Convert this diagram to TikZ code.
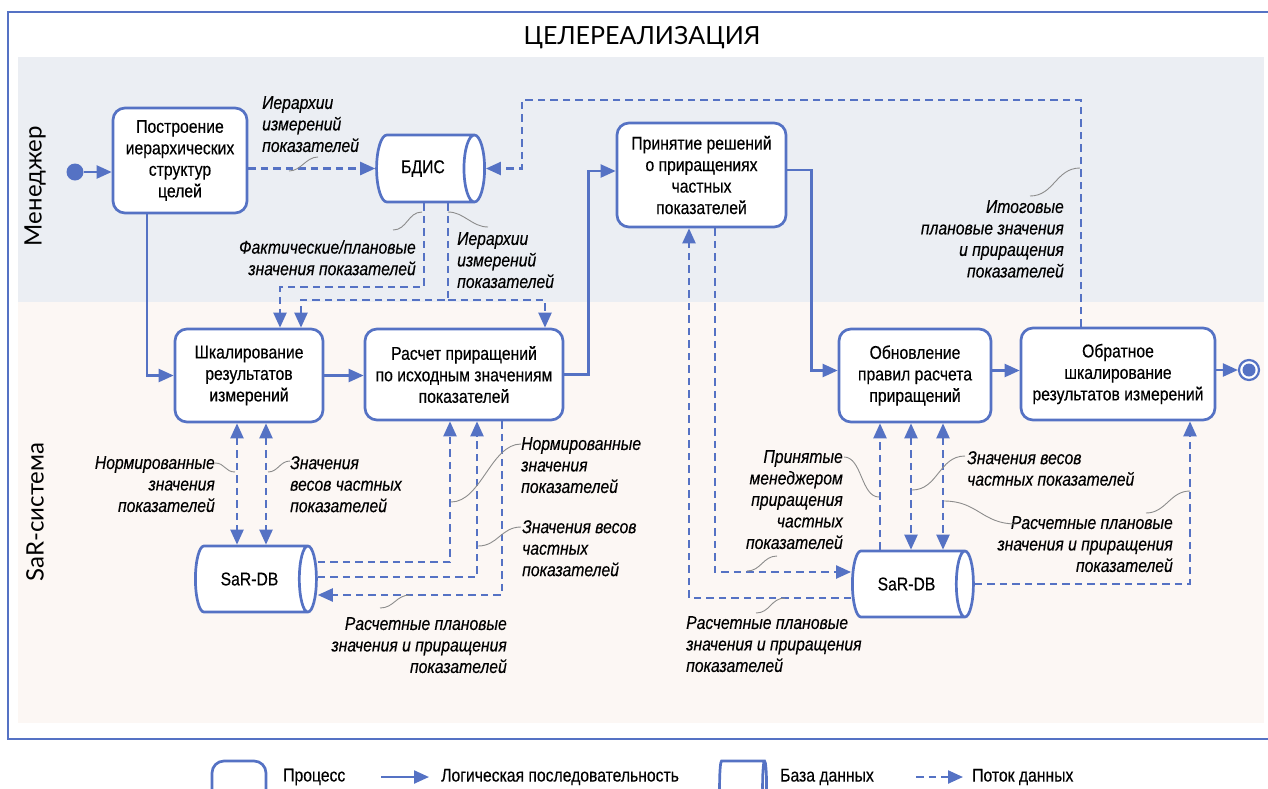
\documentclass[tikz,border=0pt]{standalone}
\usepackage{fontspec}
\setmainfont{Liberation Sans}[FakeStretch=0.85, FakeBold=0.3]
\newfontfamily\titlefont{Lato}
\usepackage{tikz}
\usetikzlibrary{shapes.geometric, arrows.meta, positioning}
\definecolor{SarBlue}{HTML}{5572C4}
\definecolor{MgrBand}{HTML}{EBEEF3}
\definecolor{SarBand}{HTML}{FCF7F4}
\definecolor{LeadGray}{HTML}{8C8C8C}
\newcommand{\boxfont}{\fontsize{18.5}{21.5}\selectfont}
\newcommand{\lblfont}{\fontsize{18.5}{21.5}\selectfont\itshape}
\newcommand{\lanefont}{\titlefont\fontsize{24}{28}\selectfont}

\tikzset{
  procbox/.style={draw=SarBlue, line width=2.7pt, rounded corners=12pt, fill=white,
    align=center, inner sep=2pt, font=\boxfont},
  % у цилиндра minimum height идёт вдоль оси
  dbase/.style={cylinder, aspect=1, draw=SarBlue, line width=2.7pt, fill=white,
    inner sep=2pt, font=\boxfont, minimum height=121pt, minimum width=66pt},
  logic/.style={draw=SarBlue, line width=2.3pt, -{Triangle[length=15pt,width=13pt]}},
  dflow/.style={logic, dash pattern=on 7.5pt off 5pt},
  dflowboth/.style={dflow, {Triangle[length=15pt,width=13pt]}-{Triangle[length=15pt,width=13pt]}},
  leader/.style={draw=LeadGray, line width=0.9pt},
  lbl/.style={font=\lblfont, inner sep=0pt, execute at begin node={\rule{0pt}{14pt}}},
}

\begin{document}
\begin{tikzpicture}[x=1pt, y=-1pt]
  \path[use as bounding box, clip] (0,0) rectangle (1268,788);
  % Дорожки
  \fill[MgrBand] (18,57) rectangle (1264,302);
  \fill[SarBand] (18,302) rectangle (1264,723);
  \draw[SarBlue, line width=2pt] (1270,12) -- (8,12) -- (8,739) -- (1270,739);
  \node[font=\titlefont\fontsize{25}{30}\selectfont] (title) at (642,38) {ЦЕЛЕРЕАЛИЗАЦИЯ};
  \node[rotate=90, font=\lanefont] (mgr) at (35,186) {Менеджер};
  \node[rotate=90, font=\lanefont] (sar) at (35,512) {SaR-система};

  % Процессы и базы данных
  \node[circle, fill=SarBlue, inner sep=0pt, minimum size=17pt] (start) at (75,172) {};
  \node[procbox, minimum width=134pt, minimum height=105pt] (build) at (180,160.5)
    {Построение\\иерархических\\структур\\целей};
  \node[dbase, minimum height=108pt, minimum width=67pt] (bdis) at (423,168.5) {БДИС};
  \node[procbox, minimum width=169pt, minimum height=104pt] (decide) at (701.5,175)
    {Принятие решений\\о приращениях\\частных\\показателей};
  \node[procbox, minimum width=148pt, minimum height=93pt] (scale) at (249,375.5)
    {Шкалирование\\результатов\\измерений};
  \node[procbox, minimum width=198pt, minimum height=91pt] (incr) at (464,374.5)
    {Расчет приращений\\по исходным значениям\\показателей};
  \node[procbox, minimum width=152pt, minimum height=93pt] (update) at (915,375.5)
    {Обновление\\правил расчета\\приращений};
  \node[procbox, minimum width=194pt, minimum height=92pt] (rescale) at (1118,374)
    {Обратное\\шкалирование\\результатов измерений};
  \node[circle, draw=SarBlue, line width=2.2pt, fill=white, minimum size=20pt, inner sep=0pt,
    path picture={\fill[SarBlue] (path picture bounding box.center) circle (6.5pt);}]
    (finish) at (1249,370) {};
  \node[dbase] (sardbA) at (249.5,579) {SaR-DB};
  \node[dbase] (sardbB) at (906.5,584) {SaR-DB};

  % Логическая последовательность
  \draw[logic] (start.east) -- (start.east -| build.west);
  \draw[logic] (147,0 |- build.south) |- (scale.west);
  \draw[logic] (scale.east) -- (scale.east -| incr.west);
  \draw[logic] (incr.east) -- ++(24,0) |- ([yshift=4pt]decide.west);
  \draw[logic] ([yshift=5pt]decide.east) -- ++(24,0) |- ([yshift=5pt]update.west);
  \draw[logic] ([yshift=5pt]update.east) -- ([yshift=5pt]update.east -| rescale.west);
  \draw[logic] ([yshift=4pt]rescale.east) -- (finish.west);

  % Потоки данных
  \draw[dflow] (bdis.west -| build.east) -- (bdis.west);
  \draw[dflow] (1081,0 |- rescale.north) |- (522,100) |- (bdis.east);
  \draw[dflow] (424,0 |- bdis.south) -- (424,287) -| (280,0 |- scale.north);
  \draw[dflow] (448,0 |- bdis.south) -- (448,300) coordinate (split) -| (301,0 |- scale.north);
  \draw[dflow] (split) -| (545,0 |- incr.north);
  \draw[dflowboth] (237,0 |- scale.south) -- (237,0 |- sardbA.north);
  \draw[dflowboth] (266,0 |- scale.south) -- (266,0 |- sardbA.north);
  \draw[dflow] ([yshift=17pt]sardbA.east) -| (450,0 |- incr.south);
  \draw[dflow] ([yshift=2pt]sardbA.east) -| (477,0 |- incr.south);
  \draw[dflow] (502,0 |- incr.south) |- ([yshift=-16pt]sardbA.east);
  \draw[dflow] ([yshift=-14pt]sardbB.west) -| (689,0 |- decide.south);
  \draw[dflow] (715,0 |- decide.south) |- ([yshift=12pt]sardbB.west);
  \draw[dflow] (880,0 |- sardbB.north) -- (880,0 |- update.south);
  \draw[dflowboth] (911,0 |- update.south) -- (911,0 |- sardbB.north);
  \draw[dflowboth] (943,0 |- update.south) -- (943,0 |- sardbB.north);
  \draw[dflow] (sardbB.east) -| (1190,0 |- rescale.south);

  % Подписи потоков
  \node[lbl, align=left, anchor=north west] (lab1) at (262,96) {Иерархии\\измерений\\показателей};
  \node[lbl, align=right, anchor=north east] (lab2) at (416,240) {Фактические/плановые\\значения показателей};
  \node[lbl, align=left, anchor=north west] (lab3) at (457,232) {Иерархии\\измерений\\показателей};
  \node[lbl, align=right, anchor=north east] (lab4) at (215,456) {Нормированные\\значения\\показателей};
  \node[lbl, align=left, anchor=north west] (lab5) at (290,456) {Значения\\весов частных\\показателей};
  \node[lbl, align=left, anchor=north west] (lab6) at (521,437) {Нормированные\\значения\\показателей};
  \node[lbl, align=left, anchor=north west] (lab7) at (522,520) {Значения весов\\частных\\показателей};
  \node[lbl, align=right, anchor=north east] (lab8) at (507,617) {Расчетные плановые\\значения и приращения\\показателей};
  \node[lbl, align=right, anchor=north east] (lab9) at (1064,200) {Итоговые\\плановые значения\\и приращения\\показателей};
  \node[lbl, align=right, anchor=north east] (lab10) at (843,450) {Принятые\\менеджером\\приращения\\частных\\показателей};
  \node[lbl, align=left, anchor=north west] (lab11) at (967,451) {Значения весов\\частных показателей};
  \node[lbl, align=right, anchor=north east] (lab12) at (1173,516) {Расчетные плановые\\значения и приращения\\показателей};
  \node[lbl, align=left, anchor=north west] (lab13) at (686,616) {Расчетные плановые\\значения и приращения\\показателей};

  % Выноски
  \draw[leader] (289,171) .. controls +(12,0) and +(-12,0) .. (318,157);
  \draw[leader] (422,212) .. controls +(-14,0) and +(14,0) .. (393,230);
  \draw[leader] (448,212) .. controls +(16,0) and +(-16,0) .. (488,227);
  \draw[leader] (215,463) .. controls +(10,0) and +(-10,0) .. (235,472);
  \draw[leader] (268,472) .. controls +(10,0) and +(-10,0) .. (290,461);
  \draw[leader] (451,502) .. controls +(30,0) and +(-30,0) .. (521,444);
  \draw[leader] (478,546) .. controls +(20,0) and +(-20,0) .. (521,527);
  \draw[leader] (410,595) .. controls +(-14,0) and +(14,0) .. (380,608);
  \draw[leader] (1080,168) .. controls +(-24,0) and +(24,0) .. (1030,196);
  \draw[leader] (844,457) .. controls +(18,0) and +(-18,0) .. (879,497);
  \draw[leader] (747,571) .. controls +(14,0) and +(-14,0) .. (777,556);
  \draw[leader] (912,490) .. controls +(26,0) and +(-26,0) .. (965,456);
  \draw[leader] (944,501) .. controls +(34,0) and +(-34,0) .. (1016,524);
  \draw[leader] (1190,491) .. controls +(-20,0) and +(20,0) .. (1146,513);
  \draw[leader] (785,598) .. controls +(-14,0) and +(14,0) .. (756,613);

  % Легенда
  \node[procbox, minimum width=54pt, minimum height=50pt] (legproc) at (239,786) {};
  \node[font=\boxfont, anchor=west, inner sep=0pt] (legproct) at (283,777) {Процесс};
  \coordinate (legl1) at (381,777);
  \coordinate (legl2) at (429,777);
  \draw[logic] (legl1) -- (legl2);
  \node[font=\boxfont, anchor=west, inner sep=0pt] (leglt) at (441,777) {Логическая последовательность};
  \node[dbase, minimum height=47pt, minimum width=50pt] (legdb) at (741,786) {};
  \node[font=\boxfont, anchor=west, inner sep=0pt] (legdbt) at (780,777) {База данных};
  \coordinate (legf1) at (916,777);
  \coordinate (legf2) at (963,777);
  \draw[dflow] (legf1) -- (legf2);
  \node[font=\boxfont, anchor=west, inner sep=0pt] (legft) at (972,777) {Поток данных};
\end{tikzpicture}
\end{document}
